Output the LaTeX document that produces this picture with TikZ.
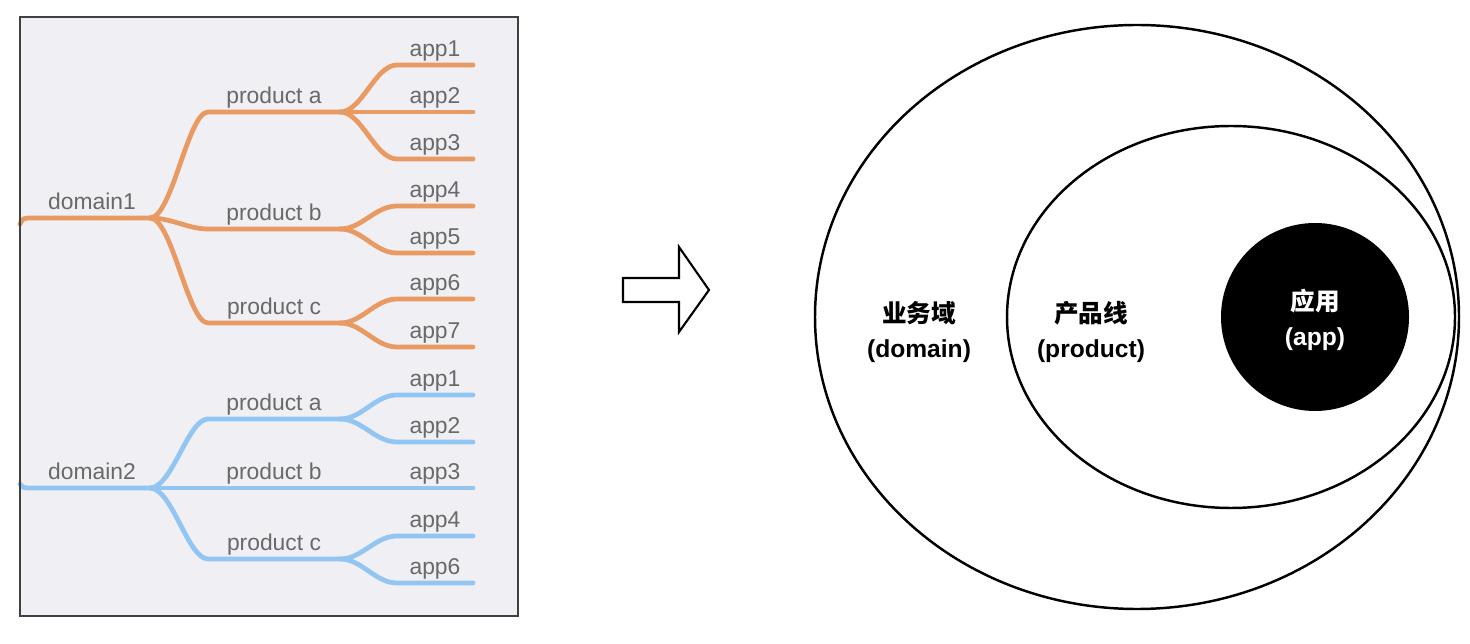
\documentclass[tikz,border=0pt]{standalone}
\usepackage{fontspec}
\setmainfont{Liberation Sans}
\newfontfamily\cjk{Noto Sans CJK SC}
\usetikzlibrary{positioning}

\definecolor{panelbg}{HTML}{EFEFF4}
\definecolor{treeorange}{HTML}{E99A62}
\definecolor{treeblue}{HTML}{92C5F1}
\definecolor{labelgray}{HTML}{696969}

\begin{document}
\begin{tikzpicture}[x=0.02cm,y=-0.02cm,
    twig/.style={line width=2.7pt,line cap=round},
    lbl/.style={text=labelgray,font=\fontsize{13}{15}\selectfont,anchor=base,yshift=5pt,inner sep=0pt},
    ring/.style={line width=1.4pt},
    part/.style={font=\fontsize{14}{20}\selectfont\bfseries,align=center}]
  \useasboundingbox (0,0) rectangle (1470,644);
  \fill[panelbg] (20,17) rectangle (518,616);

  % domain1 tree
  \coordinate (d1in) at (20,224);
  \coordinate (d1) at (150,218);
  \draw[twig,treeorange] (d1in) .. controls (23,218) .. (34,218) -- node[lbl]{domain1} (d1);
  \foreach \p/\y in {a/112,b/229,c/323}{
    \coordinate (p1\p) at (208,\y);
    \coordinate (e1\p) at (340,\y);
    \draw[twig,treeorange] (d1) .. controls +(22,0) and +(-20,0) .. (p1\p) -- node[lbl]{product \p} (e1\p);
  }
  \foreach \p/\y/\t in {a/65/app1,a/112/app2,a/159/app3,b/206/app4,b/253/app5,c/299/app6,c/347/app7}{
    \coordinate (s1\t) at (397,\y);
    \coordinate (t1\t) at (473,\y);
    \draw[twig,treeorange] (e1\p) .. controls +(22,0) and +(-22,0) .. (s1\t) -- node[lbl]{\t} (t1\t);
  }

  % domain2 tree
  \coordinate (d2in) at (20,484);
  \coordinate (d2) at (150,488);
  \draw[twig,treeblue] (d2in) .. controls (23,488) .. (34,488) -- node[lbl]{domain2} (d2);
  \foreach \p/\y in {a/419,b/488,c/559}{
    \coordinate (p2\p) at (208,\y);
    \coordinate (e2\p) at (340,\y);
    \draw[twig,treeblue] (d2) .. controls +(22,0) and +(-20,0) .. (p2\p) -- node[lbl]{product \p} (e2\p);
  }
  \foreach \p/\y/\t in {a/395/app1,a/442/app2,b/488/app3,c/536/app4,c/583/app6}{
    \coordinate (s2\t) at (397,\y);
    \coordinate (t2\t) at (473,\y);
    \draw[twig,treeblue] (e2\p) .. controls +(22,0) and +(-22,0) .. (s2\t) -- node[lbl]{\t} (t2\t);
  }
  \draw[line width=1.1pt,black!75] (20,17) rectangle (518,616);

  % arrow
  \draw[line width=1.2pt,line join=miter] (623,278) -- (679,278) -- (679,247) -- (709,290)
    -- (679,332) -- (679,302) -- (623,302) -- cycle;

  % nested sets
  \draw[ring] (1137,317) ellipse [x radius=322, y radius=292];
  \draw[ring] (1231,317) ellipse [x radius=224, y radius=191];
  \fill (1315,317) circle [radius=94];
  \node[part] (dom) at (919,332) {{\cjk 业务域}\\(domain)};
  \node[part] (prod) at (1091,332) {{\cjk 产品线}\\(product)};
  \node[part,text=white] (app) at (1315,320) {{\cjk 应用}\\(app)};
\end{tikzpicture}
\end{document}
